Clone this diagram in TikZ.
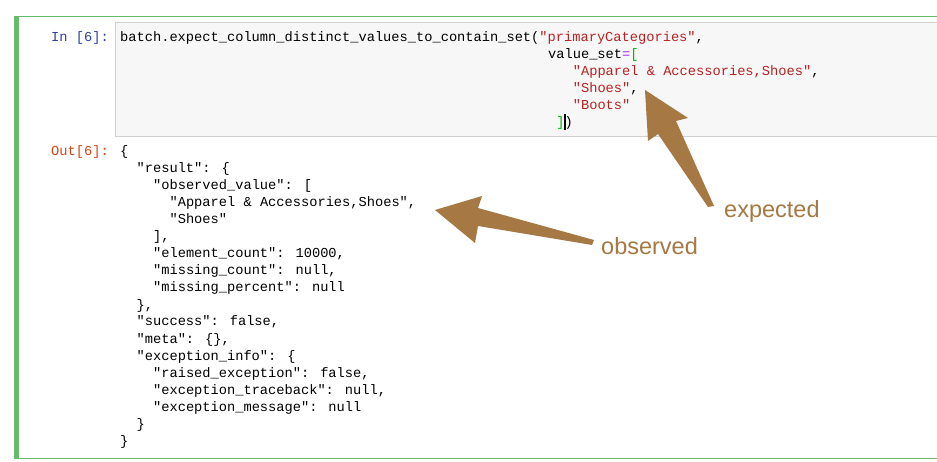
\documentclass[tikz,border=0pt]{standalone}
\usepackage{fontspec}
\setmainfont{Liberation Sans}
\newfontfamily\cm{Liberation Mono}
\definecolor{grn}{HTML}{66BB6A}
\definecolor{inb}{HTML}{303F9F}
\definecolor{outr}{HTML}{D84315}
\definecolor{strc}{HTML}{BA2121}
\definecolor{brk}{HTML}{00BB00}
\definecolor{eqc}{HTML}{AA22FF}
\definecolor{brown}{HTML}{A67843}
\begin{document}
\begin{tikzpicture}[x=1pt,y=-1pt,
  code/.style={anchor=base west,inner sep=0,font=\cm\fontsize{13.7}{16}\selectfont},
  lab/.style={anchor=base west,inner sep=0,font=\cm\fontsize{13.7}{16}\selectfont},
  ann/.style={inner sep=0,text=brown,font=\fontsize{23.5}{26}\selectfont},
  arr/.style={fill=brown,draw=none}]
\useasboundingbox (0,0) rectangle (937,462);
\fill[white] (0,0) rectangle (937,462);
\draw[grn,line width=1pt] (14,16.5) -- (937,16.5);
\draw[grn,line width=1pt] (14,458.5) -- (937,458.5);
\fill[grn] (14,16) rectangle (19,459);
\draw[fill={rgb,255:red,247;green,247;blue,247},draw={rgb,255:red,207;green,207;blue,207}] (115.5,22.5) rectangle (945,136.5);
\node[lab,text=inb] (inp) at (51,42) {In [6]:};
\node[lab,text=outr] (outp) at (51,156) {Out[6]:};
\def\col#1{\fpeval{120+8.23*#1}}
\node[code] (l1) at (120,42) {batch.expect\_column\_distinct\_values\_to\_contain\_set(\textcolor{strc}{"primaryCategories"},};
\node[code] (l2) at (\col{52},59) {value\_set\textcolor{eqc}{=}\textcolor{brk}{[}};
\node[code] (l3) at (\col{55},76) {\textcolor{strc}{"Apparel \& Accessories,Shoes"},};
\node[code] (l4) at (\col{55},93) {\textcolor{strc}{"Shoes"},};
\node[code] (l5) at (\col{55},110) {\textcolor{strc}{"Boots"}};
\node[code] (l6) at (\col{53},127) {\textcolor{brk}{]})};
\draw[black,line width=1.2pt] (\col{54}+0.5,114) -- (\col{54}+0.5,130);
\foreach \t/\c [count=\i from 0] in {
 {\{}/0, {"result": \{}/2, {"observed\_value": [}/4, {"Apparel \& Accessories,Shoes",}/6,
 {"Shoes"}/6, {],}/4, {"element\_count": 10000,}/4, {"missing\_count": null,}/4,
 {"missing\_percent": null}/4, {\},}/2, {"success": false,}/2, {"meta": \{\},}/2,
 {"exception\_info": \{}/2, {"raised\_exception": false,}/4, {"exception\_traceback": null,}/4,
 {"exception\_message": null}/4, {\}}/2, {\}}/0}
 \node[code] (o\i) at (\col{\c},156+17*\i) {\t};
% expected arrow
\fill[arr] (645,90) -- (688,118) -- (676,121) -- (714,206) -- (708,207) -- (658,134) -- (648,141) -- cycle;
% observed arrow
\fill[arr] (435,210) -- (482,196) -- (478,208) -- (594,240) -- (592,245) -- (478,226) -- (475,243) -- cycle;
\node[ann,anchor=base west] (exp) at (724,218) {expected};
\node[ann,anchor=base west] (obs) at (601,255) {observed};
\end{tikzpicture}
\end{document}
